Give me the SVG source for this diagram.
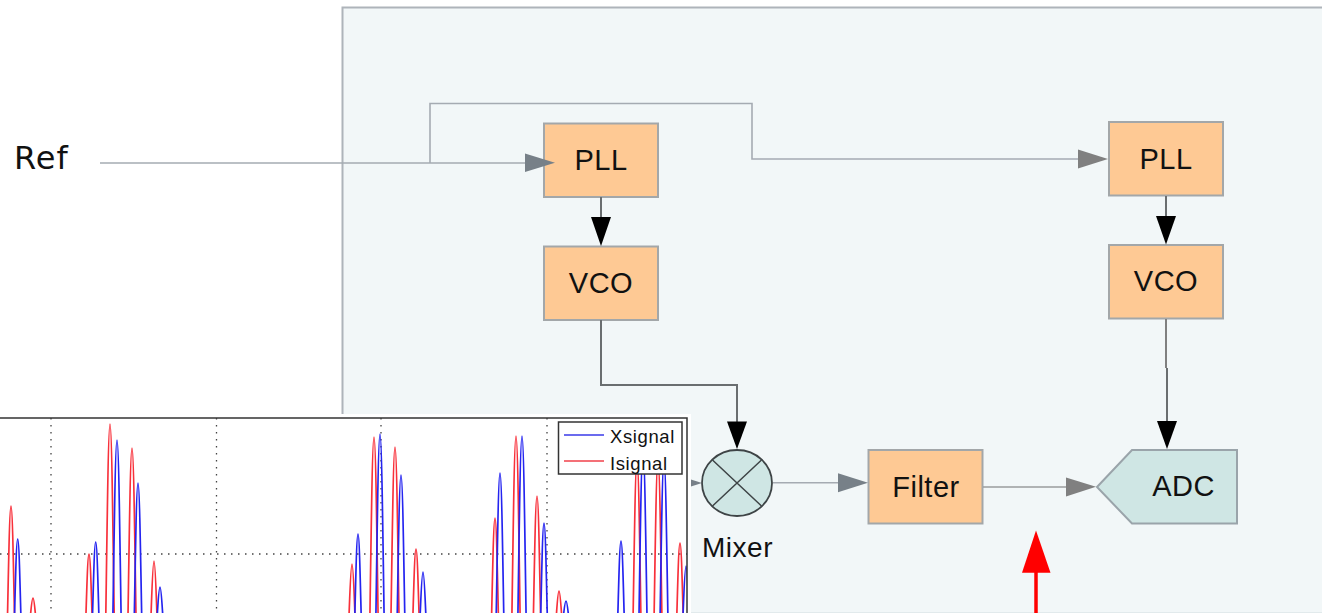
<svg xmlns="http://www.w3.org/2000/svg" xmlns:xlink="http://www.w3.org/1999/xlink" width="1322" height="613" viewBox="0 0 1322 613">
<style>
text{font-family:"Liberation Sans",Arial,sans-serif;fill:#111}
.lab{font-size:29px;letter-spacing:.5px;text-anchor:middle}
.box{fill:#fec994;stroke:#a3a7a9;stroke-width:2}
.teal{fill:#cfe6e4;stroke:#9aa4aa;stroke-width:2}
.wire{fill:none;stroke:#a5abb2;stroke-width:1.6}
.grey{fill:none;stroke:#9a9c9e;stroke-width:1.6}
.dark{fill:none;stroke:#6a6e70;stroke-width:2}
.pk{fill:none;stroke-width:1.7;vector-effect:non-scaling-stroke}
.r use{stroke:#f8303a}
.b use{stroke:#2424f0}
.grid{stroke:#444;stroke-width:1.3;stroke-dasharray:1.5 5.5;fill:none}
</style>
<defs>
<path id="pk" class="pk" d="M-1 0C-.7 -.45 -.4 -1 0 -1C.4 -1 .7 -.45 1 0"/>
<clipPath id="plotclip"><rect x="0" y="418" width="687" height="195"/></clipPath>
</defs>
<rect width="1322" height="613" fill="#fff"/>
<g id="panel"><rect x="342.500" y="7.500" width="1000" height="604.500" fill="#f2f7f8"/><path d="M342.500 613V7.500H1322" fill="none" stroke="#aeb4ba" stroke-width="2"/><path d="M690 612.500H1322" fill="none" stroke="#e2eaec" stroke-width="1"/></g>
<g id="ref"><text x="14" y="168.500" style="font-family:'DejaVu Sans',sans-serif;font-size:32px;letter-spacing:1px">Ref</text></g>
<g id="pll1"><rect class="box" x="544" y="123.500" width="114" height="73.500"/><text class="lab" x="601" y="170">PLL</text></g>
<g id="vco1"><rect class="box" x="544" y="246.500" width="114" height="73.500"/><text class="lab" x="601" y="292.500">VCO</text></g>
<g id="pll2"><rect class="box" x="1109" y="122" width="114" height="73.500"/><text class="lab" x="1166" y="168.700">PLL</text></g>
<g id="vco2"><rect class="box" x="1109" y="245" width="114" height="73.500"/><text class="lab" x="1166" y="291">VCO</text></g>
<g id="filter"><rect class="box" x="868.500" y="450" width="114" height="73.500"/><text class="lab" x="926" y="496.500">Filter</text></g>
<g id="adc"><polygon class="teal" points="1097,487 1132,450 1237,450 1237,523.500 1132,523.500"/><text class="lab" x="1183.500" y="495.700">ADC</text></g>
<g id="mixer">
<ellipse cx="737" cy="483" rx="35" ry="33" fill="#cfe6e4" stroke="#3e4446" stroke-width="1.800"/>
<path d="M712.500 460L761.500 506M761.500 460L712.500 506" stroke="#3e4446" stroke-width="1.500" fill="none"/>
<text class="lab" x="737.500" y="557" style="font-size:28px">Mixer</text>
</g>
<g id="connectors">
<path class="wire" d="M100 163H526"/>
<path class="wire" d="M430 163V103.500H752V159H1078"/>
<polygon points="525,153.500 555,162.700 525,172" fill="#778088"/>
<polygon points="1078,149.500 1108,159 1078,168.500" fill="#808080"/>
<path class="dark" d="M601 197V218"/>
<polygon points="591,217 611,217 601,246" fill="#000"/>
<path class="dark" d="M1166 196V217"/>
<polygon points="1156,216 1176,216 1166,244.500" fill="#000"/>
<path class="dark" d="M601 320V385H737V422"/>
<polygon points="727,421.500 747,421.500 737,449" fill="#000"/>
<path d="M1166 319V368" fill="none" stroke="#808080" stroke-width="2"/>
<path class="dark" d="M1167 368V422"/>
<polygon points="1157,421 1177,421 1167,449" fill="#000"/>
<polygon points="672,473.500 702,483 672,492.500" fill="#778088"/>
<path class="wire" d="M773 482.700H840"/>
<polygon points="838,473.200 868,482.700 838,492.200" fill="#778088"/>
<path class="grey" d="M983 487H1067"/>
<polygon points="1066,477.500 1096,486.800 1066,496.500" fill="#808080"/>
<path d="M1036 572V613" stroke="#f00" stroke-width="3.500" fill="none"/>
<polygon points="1036,530.500 1050.500,572.700 1022,572.700" fill="#f00"/>
</g>
<g id="plot">
<rect x="0" y="414" width="691" height="199" fill="#fff"/>
<path class="grid" d="M51 418V613M216.500 418V613M381 418V613M547 418V613M0 554H687"/>
<g clip-path="url(#plotclip)">
<g class="r">
<use href="#pk" transform="translate(11 616) scale(3.500 110)"/>
<use href="#pk" transform="translate(33 616) scale(2.600 18)"/>
<use href="#pk" transform="translate(89 616) scale(3.100 62)"/>
<use href="#pk" transform="translate(110 616) scale(4.200 192)"/>
<use href="#pk" transform="translate(132 616) scale(4 168)"/>
<use href="#pk" transform="translate(154 616) scale(3 55)"/>
<use href="#pk" transform="translate(352 616) scale(3 52)"/>
<use href="#pk" transform="translate(374 616) scale(4.100 179)"/>
<use href="#pk" transform="translate(395 616) scale(4 169)"/>
<use href="#pk" transform="translate(416 616) scale(3.100 67)"/>
<use href="#pk" transform="translate(495 616) scale(3.400 98)"/>
<use href="#pk" transform="translate(516 616) scale(4.100 180)"/>
<use href="#pk" transform="translate(537 616) scale(3.600 120)"/>
<use href="#pk" transform="translate(559 616) scale(2.700 25)"/>
<use href="#pk" transform="translate(637 616) scale(3.900 156)"/>
<use href="#pk" transform="translate(658 616) scale(3.900 156)"/>
<use href="#pk" transform="translate(680 616) scale(3.200 73)"/>
</g>
<g class="b">
<use href="#pk" transform="translate(17.700 616) scale(3.200 77)"/>
<use href="#pk" transform="translate(95.700 616) scale(3.200 74)"/>
<use href="#pk" transform="translate(117 616) scale(4.100 176)"/>
<use href="#pk" transform="translate(138 616) scale(3.700 133)"/>
<use href="#pk" transform="translate(160 616) scale(2.800 29)"/>
<use href="#pk" transform="translate(358 616) scale(3.200 82)"/>
<use href="#pk" transform="translate(380 616) scale(4.100 182)"/>
<use href="#pk" transform="translate(401 616) scale(3.800 141)"/>
<use href="#pk" transform="translate(423 616) scale(2.900 44)"/>
<use href="#pk" transform="translate(500 616) scale(3.800 143)"/>
<use href="#pk" transform="translate(522 616) scale(4.100 180)"/>
<use href="#pk" transform="translate(544 616) scale(3.300 93)"/>
<use href="#pk" transform="translate(566 616) scale(2.600 15)"/>
<use href="#pk" transform="translate(621 616) scale(3.200 75)"/>
<use href="#pk" transform="translate(643 616) scale(4 166)"/>
<use href="#pk" transform="translate(664 616) scale(3.900 156)"/>
<use href="#pk" transform="translate(686 616) scale(3 50)"/>
</g>
</g>
<path d="M0 418H687V613" fill="none" stroke="#333" stroke-width="1.500"/>
<rect x="558.500" y="422" width="123.500" height="52" fill="#fff" stroke="#333" stroke-width="1.500"/>
<path d="M564 435H604" stroke="#3a3ae8" stroke-width="1.300" fill="none"/>
<path d="M564 461H604" stroke="#f0404a" stroke-width="1.300" fill="none"/>
<text x="610" y="443" style="font-size:18.500px;letter-spacing:.6px">Xsignal</text>
<text x="610" y="470" style="font-size:18.500px;letter-spacing:.6px">Isignal</text>
</g>
</svg>
